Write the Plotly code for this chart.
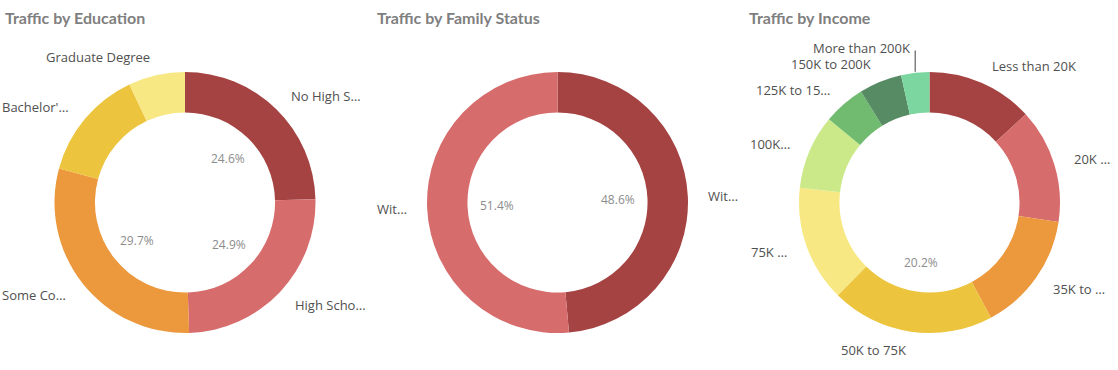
import math
import plotly.graph_objects as go

W, H = 1118, 370

# ---------------- data ----------------
edu_categories = ["No High School", "High School", "Some College", "Bachelor's Degree", "Graduate Degree"]
edu_labels = ["No High S…", "High Scho…", "Some Co…", "Bachelor'…", "Graduate Degree"]
edu_values = [24.6, 24.9, 29.7, 13.8, 7.0]

fam_categories = ["With Children", "Without Children"]
fam_labels = ["Wit…", "Wit…"]
fam_values = [48.6, 51.4]

inc_categories = ["Less than 20K", "20K to 35K", "35K to 50K", "50K to 75K", "75K to 100K",
                  "100K to 125K", "125K to 150K", "150K to 200K", "More than 200K"]
inc_labels = ["Less than 20K", "20K …", "35K to …", "50K to 75K", "75K …",
              "100K…", "125K to 15…", "150K to 200K", "More than 200K"]
inc_values = [13.2, 14.2, 14.8, 20.2, 14.4, 9.2, 5.2, 5.3, 3.5]

titles = ["Traffic by Education", "Traffic by Family Status", "Traffic by Income"]

# ---------------- style ----------------
edu_colors = ["#a54343", "#d76c6c", "#ec983d", "#ecc43d", "#f8e883"]
fam_colors = ["#a54343", "#d76c6c"]
inc_colors = ["#a54343", "#d76c6c", "#ec983d", "#ecc43d", "#f8e883",
              "#cbe989", "#70bb6f", "#568b64", "#7bd79f"]

FONT = "Open Sans"
LABEL_COLOR = "#505050"
PCT_COLOR = "#8c8c8c"
TITLE_COLOR = "#7f7f7f"

CY = 202.5
R_OUT = 130.5
HOLE = 0.69
R_LABEL = 149
R_PCT = 61
PCT_MIN = 20.0

fig = go.Figure()
annotations = []
shapes = []


def px_to_paper(x, y):
    return x / W, 1 - y / H


def add_donut(cx, cats, labels, values, colors, title, title_x):
    x0, _ = px_to_paper(cx - R_OUT, 0)
    x1, _ = px_to_paper(cx + R_OUT, 0)
    _, y0 = px_to_paper(0, CY + R_OUT)
    _, y1 = px_to_paper(0, CY - R_OUT)
    fig.add_trace(go.Pie(
        labels=cats, values=values, hole=HOLE, sort=False,
        direction="clockwise", rotation=0, textinfo="none",
        marker=dict(colors=colors, line=dict(width=0)),
        domain=dict(x=[x0, x1], y=[y0, y1]), showlegend=False,
        hovertemplate="%{label}: %{percent}<extra></extra>",
    ))
    tx, ty = px_to_paper(title_x, 18)
    annotations.append(dict(text="<b>" + title + "</b>", x=tx, y=ty, xref="paper", yref="paper",
                            xanchor="left", yanchor="middle", showarrow=False,
                            font=dict(family="Lato", size=16, color=TITLE_COLOR)))
    total = sum(values)
    cum = 0.0
    prev = {"L": None, "R": None}
    for lab, v in zip(labels, values):
        share = v / total
        mid = (cum + share / 2) * 2 * math.pi
        cum += share
        s, c = math.sin(mid), math.cos(mid)
        lx = cx + R_LABEL * s
        ly = CY - R_LABEL * c
        side = "R" if s >= 0 else "L"
        p = prev[side]
        if p is not None and abs(ly - p) < 15 and c > 0:
            ex = cx + R_OUT * s
            ey = CY - R_OUT * c
            ly = p - 16
            sx0, sy0 = px_to_paper(ex, ey - 1)
            sx1, sy1 = px_to_paper(ex, ly + 2)
            shapes.append(dict(type="line", xref="paper", yref="paper", x0=sx0, y0=sy0, x1=sx1, y1=sy1,
                               line=dict(color="#404040", width=1)))
            lx = ex - 3
        prev[side] = ly
        ax, ay = px_to_paper(lx, ly)
        annotations.append(dict(text=lab, x=ax, y=ay, xref="paper", yref="paper",
                                xanchor="left" if side == "R" else "right", yanchor="middle",
                                showarrow=False, font=dict(family=FONT, size=13, color=LABEL_COLOR)))
        if share * 100 >= PCT_MIN:
            qx, qy = px_to_paper(cx + R_PCT * s, CY - R_PCT * c)
            annotations.append(dict(text=f"{share*100:.1f}%", x=qx, y=qy, xref="paper", yref="paper",
                                    xanchor="center", yanchor="middle", showarrow=False,
                                    font=dict(family=FONT, size=12, color=PCT_COLOR)))


add_donut(185, edu_categories, edu_labels, edu_values, edu_colors, titles[0], 3)
add_donut(557.5, fam_categories, fam_labels, fam_values, fam_colors, titles[1], 375)
add_donut(929.5, inc_categories, inc_labels, inc_values, inc_colors, titles[2], 747)

fig.update_layout(
    width=W, height=H, margin=dict(l=0, r=0, t=0, b=0),
    paper_bgcolor="white", plot_bgcolor="white",
    annotations=annotations, shapes=shapes,
    font=dict(family=FONT),
)

fig.write_html("out.html", config={"displayModeBar": False},
               post_script="document.body.style.margin='0';")
